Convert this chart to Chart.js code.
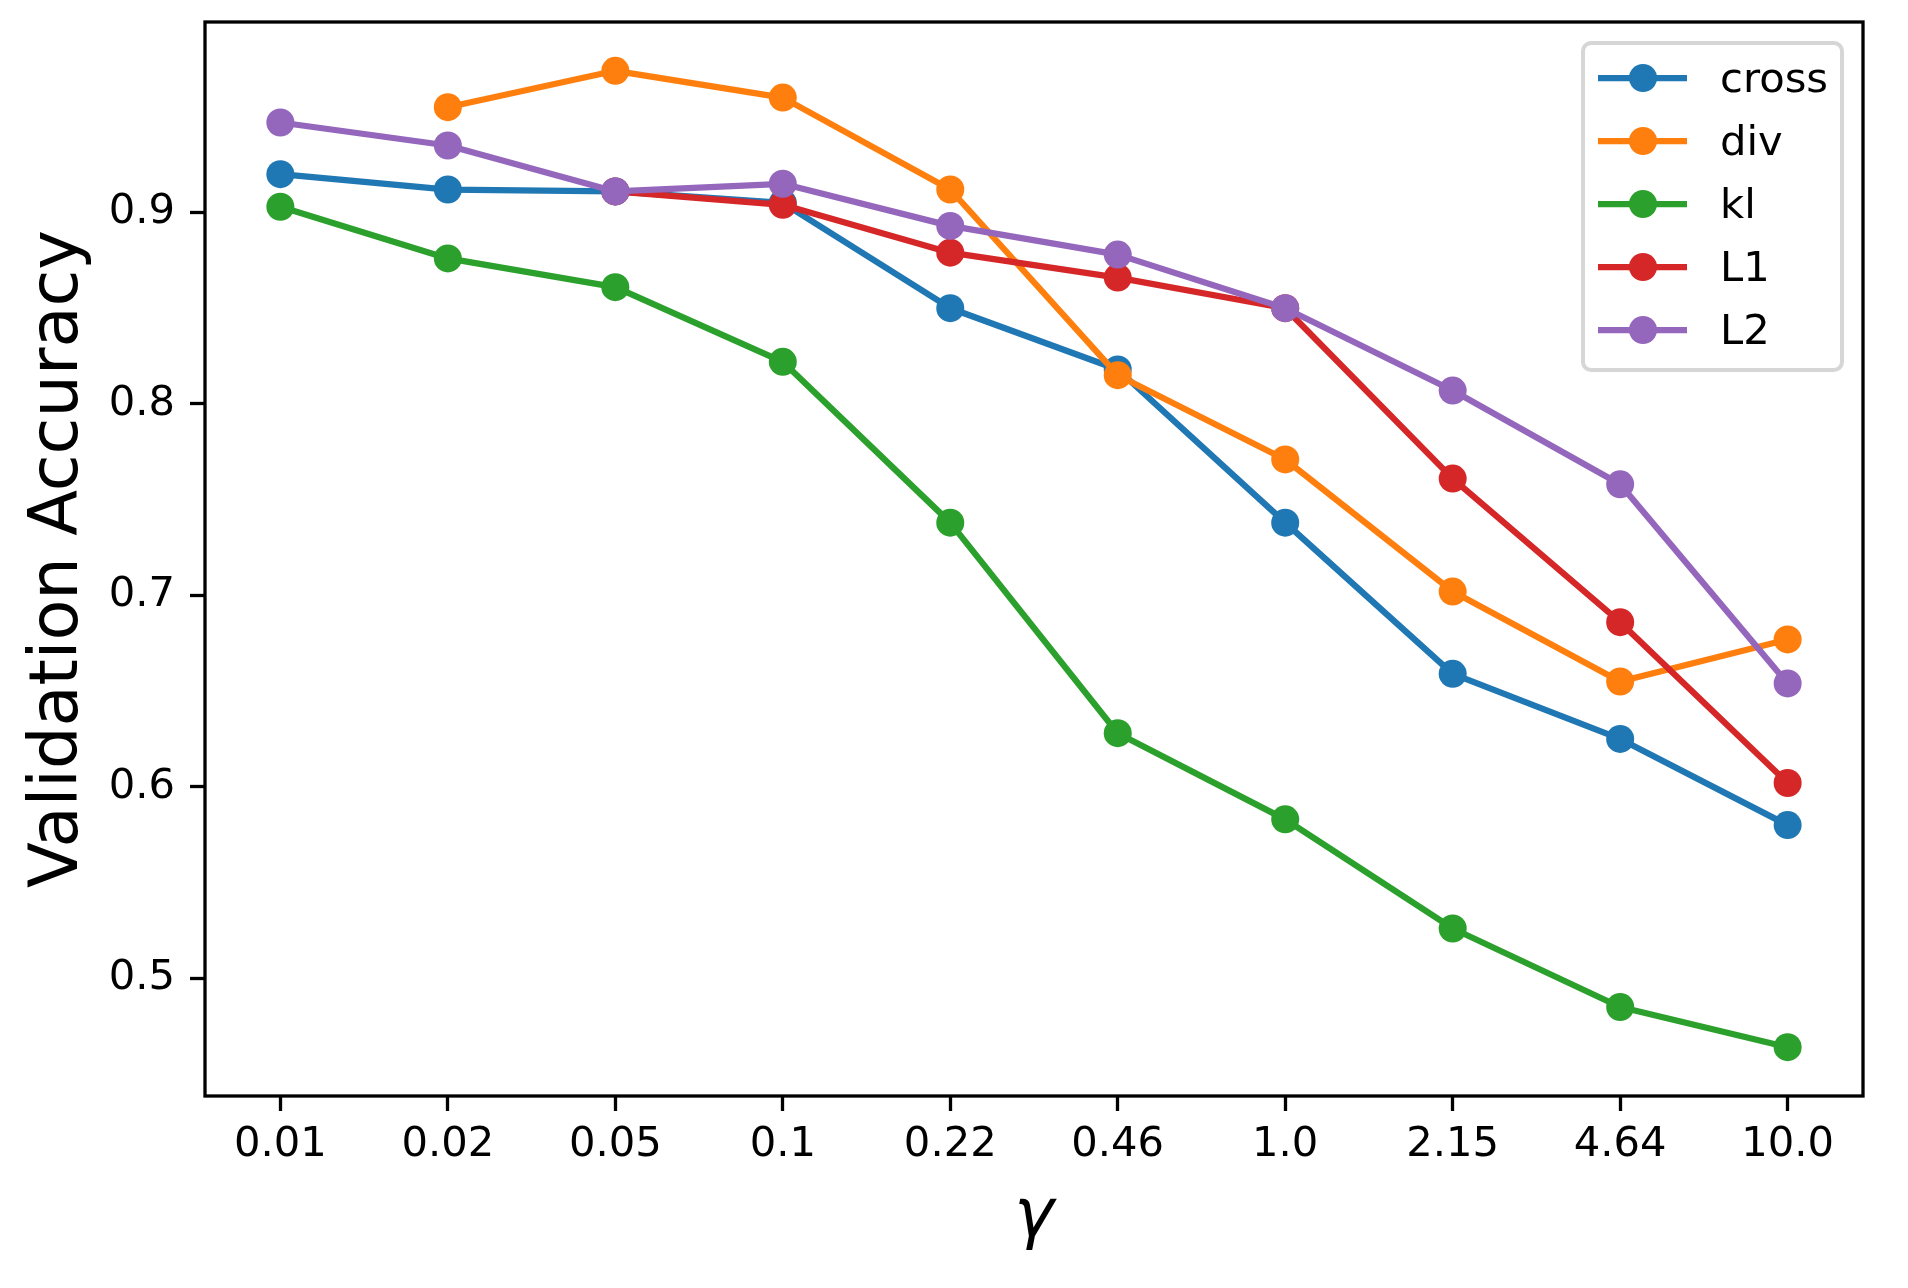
<!DOCTYPE html>
<html>
<head>
<meta charset="utf-8">
<title>Validation Accuracy vs gamma</title>
<script src="https://cdn.jsdelivr.net/npm/chart.js@4.4.1/dist/chart.umd.min.js"></script>
<style>
    html, body { margin: 0; padding: 0; background: #ffffff; }
    #wrap { position: relative; width: 1908px; height: 1288px; }
</style>
</head>
<body>
<div id="wrap"><canvas id="accChart"></canvas></div>
<script>
// values
const gammaLabels = ['0.01', '0.02', '0.05', '0.1', '0.22', '0.46', '1.0', '2.15', '4.64', '10.0'];
const crossAcc = [0.920, 0.912, 0.911, 0.905, 0.850, 0.818, 0.738, 0.659, 0.625, 0.580];
const divAcc   = [null, 0.955, 0.974, 0.960, 0.912, 0.815, 0.771, 0.702, 0.655, 0.677];
const klAcc    = [0.903, 0.876, 0.861, 0.822, 0.738, 0.628, 0.583, 0.526, 0.485, 0.464];
const l1Acc    = [null, null, 0.911, 0.904, 0.879, 0.866, 0.850, 0.761, 0.686, 0.602];
const l2Acc    = [0.947, 0.935, 0.911, 0.915, 0.893, 0.878, 0.850, 0.807, 0.758, 0.654];
const yTicks = [0.5, 0.6, 0.7, 0.8, 0.9];
const yTickLabels = ['0.5', '0.6', '0.7', '0.8', '0.9'];

const seriesNames = ['cross', 'div', 'kl', 'L1', 'L2'];
const seriesValues = [crossAcc, divAcc, klAcc, l1Acc, l2Acc];
const seriesColors = ['#1f77b4', '#ff7f0e', '#2ca02c', '#d62728', '#9467bd'];

const FONT = "'DejaVu Sans', 'Liberation Sans', sans-serif";

document.addEventListener('DOMContentLoaded', function() {
    initializeChart();
});

function axisLimits() {
    // same 5% margin matplotlib puts round the data
    const all = seriesValues.flat().filter(v => v !== null);
    const lo = Math.min(...all), hi = Math.max(...all);
    const pad = (hi - lo) * 0.05;
    return { min: lo - pad, max: hi + pad };
}

const framePlugin = {
    id: 'frame',
    afterDraw(chart) {
        const { ctx, chartArea: a } = chart;
        ctx.save();
        ctx.strokeStyle = '#000000';
        ctx.lineWidth = 3.3;
        ctx.lineJoin = 'miter';
        ctx.strokeRect(a.left, a.top, a.right - a.left, a.bottom - a.top);
        ctx.restore();
    }
};

const legendPlugin = {
    id: 'boxLegend',
    afterDraw(chart) {
        const { ctx, chartArea: a } = chart;
        const boxRight = a.right - 21;
        const boxLeft = boxRight - 259;
        const boxTop = a.top + 21;
        const boxBottom = boxTop + 327;
        ctx.save();
        ctx.beginPath();
        ctx.roundRect(boxLeft, boxTop, boxRight - boxLeft, boxBottom - boxTop, 8);
        ctx.fillStyle = 'rgba(255,255,255,0.8)';
        ctx.fill();
        ctx.lineWidth = 4;
        ctx.strokeStyle = '#d6d6d6';
        ctx.stroke();

        ctx.font = '41.7px ' + FONT;
        ctx.textAlign = 'left';
        ctx.textBaseline = 'alphabetic';
        chart.data.datasets.forEach((ds, i) => {
            const cy = boxTop + 35 + i * 63;
            ctx.strokeStyle = ds.borderColor;
            ctx.lineWidth = ds.borderWidth;
            ctx.beginPath();
            ctx.moveTo(boxLeft + 15, cy);
            ctx.lineTo(boxLeft + 104, cy);
            ctx.stroke();
            ctx.fillStyle = ds.backgroundColor;
            ctx.beginPath();
            ctx.arc(boxLeft + 60, cy, 14, 0, Math.PI * 2);
            ctx.fill();
            ctx.fillStyle = '#000000';
            ctx.fillText(ds.label, boxLeft + 137, cy + 13.5);
        });
        ctx.restore();
    }
};

function initializeChart() {
    const ctx = document.getElementById('accChart').getContext('2d');
    const lim = axisLimits();
    const n = gammaLabels.length;

    const datasets = seriesNames.map((name, i) => ({
        label: name,
        data: seriesValues[i].map((v, k) => ({ x: k, y: v })),
        borderColor: seriesColors[i],
        backgroundColor: seriesColors[i],
        pointBackgroundColor: seriesColors[i],
        borderWidth: 6.25,
        borderJoinStyle: 'round',
        pointRadius: 14,
        pointBorderWidth: 0,
        pointHoverRadius: 14,
        tension: 0,
        spanGaps: false,
        order: seriesNames.length - i
    }));

    window.accChart = new Chart(ctx, {
        type: 'line',
        data: { datasets: datasets },
        options: {
            responsive: true,
            maintainAspectRatio: false,
            devicePixelRatio: 1,
            animation: false,
            events: [],
            layout: {
                padding: { left: 0, top: 22, right: 45, bottom: 0 }
            },
            plugins: {
                legend: { display: false },
                tooltip: { enabled: false }
            },
            scales: {
                x: {
                    type: 'linear',
                    min: -0.45,
                    max: n - 1 + 0.45,
                    afterFit: function(scale) {
                        scale.height = 192;
                        scale.paddingLeft = 0;
                        scale.paddingRight = 0;
                    },
                    afterBuildTicks: function(scale) {
                        scale.ticks = gammaLabels.map((_, k) => ({ value: k }));
                    },
                    border: { display: false },
                    grid: {
                        drawOnChartArea: false,
                        drawTicks: true,
                        tickLength: 15,
                        tickWidth: 3.3,
                        tickColor: '#000000'
                    },
                    ticks: {
                        autoSkip: false,
                        maxRotation: 0,
                        padding: 9,
                        color: '#000000',
                        font: { family: FONT, size: 41.7 },
                        callback: function(value) { return gammaLabels[Math.round(value)]; }
                    },
                    title: {
                        display: true,
                        text: 'γ',
                        color: '#000000',
                        padding: { top: 0, bottom: 29 },
                        font: { family: FONT, size: 67, style: 'italic' }
                    }
                },
                y: {
                    min: lim.min,
                    max: lim.max,
                    afterFit: function(scale) {
                        scale.width = 205;
                        scale.paddingTop = 0;
                        scale.paddingBottom = 0;
                    },
                    afterBuildTicks: function(scale) {
                        scale.ticks = yTicks.map(v => ({ value: v }));
                    },
                    border: { display: false },
                    grid: {
                        drawOnChartArea: false,
                        drawTicks: true,
                        tickLength: 15,
                        tickWidth: 3.3,
                        tickColor: '#000000'
                    },
                    ticks: {
                        padding: 15,
                        color: '#000000',
                        font: { family: FONT, size: 41.7 },
                        callback: function(value, index) { return yTickLabels[index]; }
                    },
                    title: {
                        display: true,
                        text: 'Validation Accuracy',
                        color: '#000000',
                        padding: { top: 19, bottom: 0 },
                        font: { family: FONT, size: 67 }
                    }
                }
            }
        },
        plugins: [framePlugin, legendPlugin]
    });
}
</script>
</body>
</html>
